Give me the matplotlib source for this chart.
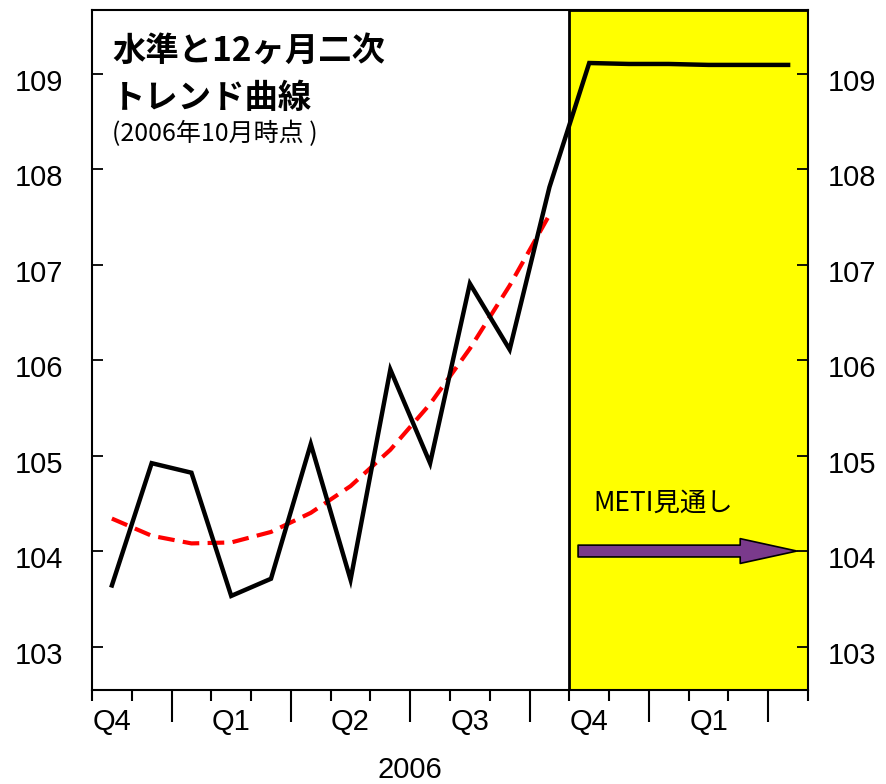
import matplotlib
matplotlib.use("Agg")
import matplotlib.pyplot as plt
import matplotlib.transforms as mtransforms
from matplotlib.patches import FancyArrowPatch
import numpy as np

# data (monthly, Nov 2005 .. Apr 2007)
level = [103.64, 104.92, 104.82, 103.53, 103.71, 105.12, 103.70, 105.90,
         104.92, 106.80, 106.11, 107.81,
         109.11, 109.10, 109.10, 109.09, 109.09, 109.09]
trend = [104.34, 104.16, 104.08, 104.09, 104.20, 104.40, 104.68, 105.06,
         105.54, 106.12, 106.78, 107.52]
quarter_labels = ["Q4", "Q1", "Q2", "Q3", "Q4", "Q1"]
quarter_pos = [0, 3, 6, 9, 12, 15]
year_label = "2006"
year_pos = 7.5
forecast_start = 11.5
yticks = [103, 104, 105, 106, 107, 108, 109]

jp = ["Noto Sans CJK JP", "DejaVu Sans"]
plt.rcParams["font.family"] = ["Liberation Sans", "DejaVu Sans"]

fig = plt.figure(figsize=(8.86, 7.84), dpi=100)
ax = fig.add_axes([92 / 886, 94 / 784, 716 / 886, 680 / 784])

x = np.arange(len(level))
xlim = (-0.5, len(level) - 0.5)

# forecast area
ax.axvspan(forecast_start, xlim[1], facecolor="#ffff00", edgecolor="black",
           linewidth=2, zorder=0)

# lines
ax.plot(x, level, color="black", linewidth=3.2, solid_joinstyle="miter", zorder=3)
ax.plot(np.arange(len(trend)), trend, color="red", linewidth=3, linestyle=(0, (4, 2)),
        zorder=2)

ax.set_xlim(*xlim)
ax.set_ylim(102.545, 109.665)

# y axes both sides, labels sit a bit below their ticks like the original
ax.set_yticks(yticks)
ax.set_yticklabels([str(v) for v in yticks])
ax.tick_params(axis="y", direction="in", length=8, width=1.3, labelsize=21,
               left=True, right=True, labelleft=True, labelright=True, pad=14)
down = mtransforms.ScaledTranslation(0, -6 / 100, fig.dpi_scale_trans)
left_shift = mtransforms.ScaledTranslation(-9 / 100, -6 / 100, fig.dpi_scale_trans)
for t in ax.yaxis.get_major_ticks():
    t.label1.set_transform(t.label1.get_transform() + left_shift)
    t.label2.set_transform(t.label2.get_transform() + down)

# month boundary ticks on x
bounds = np.arange(len(level) + 1) - 0.5
major_b = [b for i, b in enumerate(bounds) if i % 3 == 2]
minor_b = [b for i, b in enumerate(bounds) if i % 3 != 2]
ax.set_xticks(major_b)
ax.set_xticks(minor_b, minor=True)
ax.set_xticklabels([])
ax.tick_params(axis="x", which="major", direction="out", length=23, width=1.5)
ax.tick_params(axis="x", which="minor", direction="out", length=8, width=1.5)

trans = ax.get_xaxis_transform()
for q, p in zip(quarter_labels, quarter_pos):
    ax.text(p, -0.047, q, transform=trans, ha="center", va="center", fontsize=21)
ax.text(year_pos, -0.117, year_label, transform=trans, ha="center", va="center", fontsize=21)

for s in ax.spines.values():
    s.set_linewidth(1.5)

# titles
ax.text(0.028, 0.94, "水準と12ヶ月二次", transform=ax.transAxes, family=jp,
        fontsize=24, fontweight="bold", ha="left", va="center")
ax.text(0.028, 0.87, "トレンド曲線", transform=ax.transAxes, family=jp,
        fontsize=24, fontweight="bold", ha="left", va="center")
ax.text(0.028, 0.818, "(2006年10月時点 )", transform=ax.transAxes, family=jp,
        fontsize=18, ha="left", va="center")

# METI arrow
ax.text(12.1, 104.5, "METI見通し", family=jp, fontsize=19, ha="left", va="center")
arrow = FancyArrowPatch((11.72, 104.0), (17.22, 104.0),
                        arrowstyle="simple,head_length=2.4,head_width=1.05,tail_width=0.5",
                        mutation_scale=17, facecolor="#7a3a8c", edgecolor="black",
                        linewidth=1.2, shrinkA=0, shrinkB=0, zorder=4)
ax.add_patch(arrow)

plt.savefig("out.png", dpi=100)
